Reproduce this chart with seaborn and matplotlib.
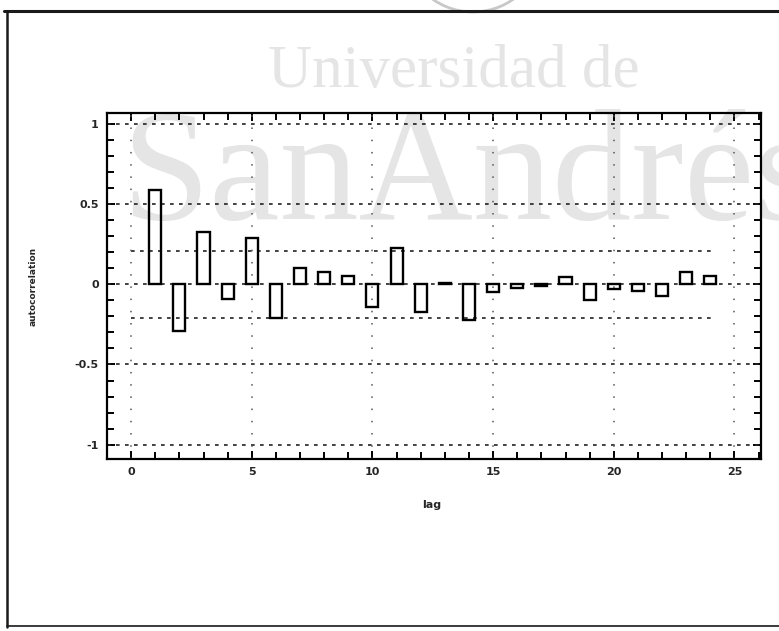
import matplotlib
matplotlib.use("Agg")
import matplotlib.pyplot as plt
from matplotlib.lines import Line2D
from matplotlib.patches import Arc
from matplotlib.ticker import MultipleLocator, FixedLocator
import seaborn as sns

# Sample autocorrelation function by lag
lags = list(range(1, 25))
acf = [0.59, -0.29, 0.325, -0.09, 0.29, -0.21, 0.10, 0.075, 0.05, -0.14, 0.23, -0.175,
       0.01, -0.225, -0.045, -0.02, -0.01, 0.045, -0.10, -0.03, -0.04, -0.07, 0.08, 0.055]
band_level = 0.21           # approximate 95% significance band
band_span = [0, 24.2]
grid_y = [1, 0.5, 0, -0.5, -1]
x_ticks = [0, 5, 10, 15, 20, 25]
x_ticklabels = ["0", "5", "10", "15", "20", "25"]
y_ticks = [-1, -0.5, 0, 0.5, 1]
y_ticklabels = ["-1", "-0.5", "0", "0.5", "1"]

sns.set_style("white")
plt.rcParams["font.family"] = ["DejaVu Sans"]

W, H = 779, 631
fig = plt.figure(figsize=(W / 100, H / 100), dpi=100, facecolor="white")

# watermark text behind the plot
wm = "#e5e5e5"
fig.text(268 / W, 1 - 87 / H, "Universidad de", ha="left", va="baseline",
         fontsize=44, family="Liberation Serif", color=wm, zorder=0)
fig.text(121 / W, 1 - 219 / H, "SanAndrés", ha="left", va="baseline",
         fontsize=114, family="Liberation Serif", color=wm, zorder=0)
fig.add_artist(Arc((473 / W, 1 + 58 / H), 140 / W, 140 / H, theta1=180, theta2=360,
                   transform=fig.transFigure, color="#c8c8c8", lw=2, zorder=0))

# page frame
frame_kw = dict(transform=fig.transFigure, color="#1a1a1a", zorder=1)
fig.add_artist(Line2D([4 / W, 1], [1 - 11 / H, 1 - 11 / H], lw=2.2, **frame_kw))
fig.add_artist(Line2D([7 / W, 7 / W], [1 - 11 / H, 1 - 627 / H], lw=1.8, **frame_kw))
fig.add_artist(Line2D([7 / W, 1], [1 - 626 / H, 1 - 626 / H], lw=1.2, **frame_kw))

ax = fig.add_axes([107 / W, 1 - 459 / H, (761 - 107) / W, (459 - 113) / H])
ax.set_facecolor("none")
ax.set_zorder(2)

sns.barplot(x=lags, y=acf, native_scale=True, width=0.5, fill=False,
            color="black", linewidth=1.7, errorbar=None, ax=ax)
for p in ax.patches:
    p.set_edgecolor("black")
    p.set_zorder(3)

dot = (0, (2.2, 3.2))
for yv in grid_y:
    ax.axhline(yv, color="#222222", lw=1.2, ls=dot, zorder=1)
for sgn in (1, -1):
    ax.plot(band_span, [sgn * band_level] * 2, color="#222222", lw=1.2, ls=dot, zorder=1)
for xv in x_ticks:
    ax.axvline(xv, color="#555555", lw=1.1, ls=(0, (1, 7)), zorder=1)

ax.set_xlim(-1.0, 26.1)
ax.set_ylim(-1.09, 1.07)

ax.xaxis.set_major_locator(FixedLocator(x_ticks))
ax.xaxis.set_minor_locator(MultipleLocator(1))
ax.yaxis.set_major_locator(FixedLocator(y_ticks))
ax.yaxis.set_minor_locator(MultipleLocator(0.1))
ax.set_xticklabels(x_ticklabels, fontsize=8, fontweight="bold")
ax.set_yticklabels(y_ticklabels, fontsize=8, fontweight="bold")
ax.tick_params(which="both", direction="in", top=True, right=True, bottom=True, left=True,
               color="black", width=1.4)
ax.tick_params(which="major", length=6, pad=6)
ax.tick_params(which="minor", length=5)

for s in ax.spines.values():
    s.set_visible(True)
    s.set_color("black")
    s.set_linewidth(1.6)

ax.set_xlabel("")
ax.set_ylabel("")
fig.text(432 / W, 1 - 505 / H, "lag", ha="center", va="center", fontsize=8,
         fontweight="bold")
fig.text(33 / W, 1 - 286 / H, "autocorrelation", ha="center", va="center",
         rotation=90, fontsize=6.5, fontweight="bold")

fig.savefig("out.png", dpi=100, facecolor="white")
